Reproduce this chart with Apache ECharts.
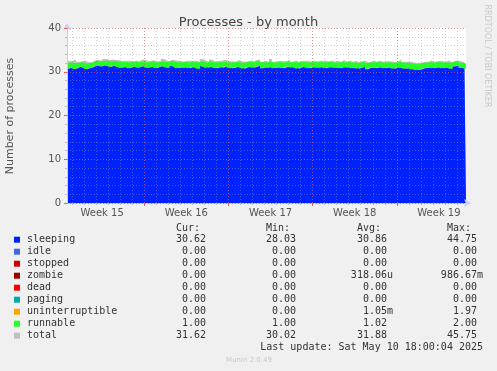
<!DOCTYPE html>
<html>
<head>
<meta charset="utf-8">
<script src="https://cdn.jsdelivr.net/npm/echarts@6/dist/echarts.min.js"></script>
<style>
html,body{margin:0;padding:0;background:#f0f0f0;}
#chart{width:497px;height:371px;}
</style>
</head>
<body>
<div id="chart"></div>
<script>
// time: days relative to Mon 2025-04-14 00:00 UTC (start of Week 16), 6-hour samples
const DAY = 86400000;
const base = Date.UTC(2025, 3, 14);
const tStart = -6.5;
const tStep = 0.25;
const xMin = -6.42;
const xMax = 26.75;

const sleeping = [
30.9,30.7,31.0,30.6,30.8,31.2,30.9,30.6,30.8,31.0,
31.3,31.4,31.2,31.5,31.3,31.1,31.4,31.2,30.9,31.0,
31.1,30.8,31.0,31.2,30.9,31.1,31.3,30.9,31.0,31.2,
30.8,31.0,31.3,31.1,30.9,31.4,31.2,30.8,31.0,30.9,
31.1,30.8,31.2,31.0,30.7,31.3,31.1,30.9,31.2,31.0,
30.8,31.1,30.9,31.3,31.0,30.8,30.9,31.2,31.0,30.7,
31.0,31.2,30.9,31.1,31.4,30.8,31.0,30.9,31.2,30.8,
30.9,31.1,30.8,31.0,31.3,30.9,31.1,30.7,31.0,31.2,
30.9,30.8,31.1,31.0,30.9,31.2,30.8,31.0,31.1,30.9,
31.0,30.8,31.1,30.9,31.2,30.8,31.0,30.7,30.9,31.1,
30.6,30.9,31.0,30.8,31.1,30.9,30.8,31.0,30.9,30.7,
30.9,31.1,30.8,30.7,30.9,30.6,30.5,30.4,30.6,30.8,
30.9,31.0,30.8,30.9,31.1,30.8,30.9,31.0,30.7,31.2,
31.4,30.9,30.8,30.7
];
const runnable = [
1.2,1.3,1.2,1.4,1.2,1.0,1.2,1.3,1.2,1.1,
1.2,1.0,1.2,1.1,1.2,1.3,1.1,1.2,1.4,1.2,
1.2,1.3,1.2,1.1,1.3,1.2,1.1,1.3,1.2,1.2,
1.3,1.2,1.1,1.2,1.3,1.1,1.2,1.4,1.2,1.2,
1.2,1.3,1.1,1.2,1.4,1.1,1.2,1.2,1.2,1.2,
1.3,1.2,1.2,1.1,1.2,1.3,1.2,1.1,1.2,1.3,
1.2,1.1,1.3,1.2,1.1,1.3,1.2,1.2,1.2,1.3,
1.2,1.2,1.3,1.2,1.1,1.2,1.2,1.4,1.2,1.1,
1.2,1.3,1.2,1.2,1.3,1.1,1.3,1.2,1.2,1.2,
1.2,1.3,1.2,1.2,1.1,1.3,1.2,1.3,1.2,1.2,
1.3,1.2,1.2,1.3,1.2,1.2,1.3,1.2,1.2,1.3,
1.2,1.2,1.3,1.3,1.2,1.3,1.3,1.3,1.3,1.2,
1.2,1.2,1.3,1.2,1.2,1.3,1.2,1.2,1.3,1.1,
1.0,1.2,1.2,1.2
];
const total = [
32.5,32.6,32.4,32.8,32.3,32.4,32.6,32.2,32.2,32.5,
32.8,32.6,33.0,32.9,32.7,32.8,32.7,32.7,32.5,32.5,
32.5,32.5,32.4,32.6,32.4,32.8,32.7,32.4,32.6,32.6,
32.4,32.4,33.0,32.6,32.4,32.8,32.6,32.6,32.4,32.4,
32.5,32.5,32.5,32.5,32.3,32.9,32.6,32.3,32.8,32.4,
32.4,32.5,32.7,32.7,32.4,32.4,32.3,32.7,32.4,32.3,
32.4,32.6,32.4,32.7,32.8,32.3,32.5,32.3,32.9,32.3,
32.4,32.5,32.4,32.4,32.8,32.3,32.6,32.3,32.5,32.5,
32.5,32.3,32.6,32.4,32.5,32.5,32.5,32.4,32.6,32.3,
32.5,32.3,32.7,32.3,32.6,32.3,32.5,32.2,32.4,32.5,
32.2,32.3,32.6,32.3,32.6,32.3,32.4,32.4,32.4,32.2,
32.4,32.8,32.3,32.3,32.3,32.2,32.0,32.0,32.1,32.3,
32.3,32.6,32.3,32.4,32.5,32.4,32.3,32.6,32.2,32.6,
32.6,32.4,32.2,32.2
];

const weekLabels = ['Week 15','Week 16','Week 17','Week 18','Week 19'];
const weekLabelPos = [-3.5, 3.5, 10.5, 17.5, 24.5];
const weekStarts = [0, 7, 14, 21];
const yTicks = [0, 10, 20, 30, 40];

const legendNames = ['sleeping','idle','stopped','zombie','dead','paging','uninterruptible','runnable','total'];
const legendColors = ['#0022ff','#4169e1','#cc0000','#990000','#ff0000','#00aaaa','#ffa500','#22ff22','#c0c0c0'];
const curVals = ['30.62 ','0.00 ','0.00 ','0.00 ','0.00 ','0.00 ','0.00 ','1.00 ','31.62 '];
const minVals = ['28.03 ','0.00 ','0.00 ','0.00 ','0.00 ','0.00 ','0.00 ','1.00 ','30.02 '];
const avgVals = ['30.86 ','0.00 ','0.00 ','318.06u','0.00 ','0.00 ','1.05m','1.02 ','31.88 '];
const maxVals = ['44.75 ','0.00 ','0.00 ','986.67m','0.00 ','0.00 ','1.97 ','2.00 ','45.75 '];
const headers = ['Cur:','Min:','Avg:','Max:'];
const lastUpdate = 'Last update: Sat May 10 18:00:04 2025';

const toMs = d => base + d*DAY;
function pairs(arr){ return arr.map((v,i)=>[toMs(tStart + tStep*i), v]); }

const dayTicks = [];
for (let d = Math.ceil(xMin); d <= Math.floor(xMax); d++) dayTicks.push(d);

const sans = 'DejaVu Sans';

const graphics = [];
graphics.push({type:'text', x:10, y:116, rotation:Math.PI/2, style:{text:'Number of processes', font:'11px "DejaVu Sans"', fill:'#555', align:'center', verticalAlign:'middle'}});
graphics.push({type:'text', x:487, y:56, rotation:-Math.PI/2, style:{text:'RRDTOOL / TOBI OETIKER', font:'8px "DejaVu Sans"', fill:'#c8c8c8', align:'center', verticalAlign:'middle'}});
const colRight = [212, 302, 393, 483];
headers.forEach((h,j)=>{
  graphics.push({type:'text', x:colRight[j]-12, y:228.5, style:{text:h, font:'10px "DejaVu Sans Mono"', fill:'#333', align:'right', verticalAlign:'middle'}});
});
legendNames.forEach((n,k)=>{
  const y = 239.7 + 12*k;
  graphics.push({type:'rect', shape:{x:14, y:y-3, width:6, height:6}, style:{fill:legendColors[k]}});
  graphics.push({type:'text', x:27, y:y, style:{text:n, font:'10px "DejaVu Sans Mono"', fill:'#333', align:'left', verticalAlign:'middle'}});
  [curVals,minVals,avgVals,maxVals].forEach((arr,j)=>{
    graphics.push({type:'text', x:colRight[j], y:y, style:{text:arr[k], font:'10px "DejaVu Sans Mono"', fill:'#333', align:'right', verticalAlign:'middle', whiteSpace:'pre'}});
  });
});
graphics.push({type:'text', x:483, y:347.7, style:{text:lastUpdate, font:'10px "DejaVu Sans Mono"', fill:'#333', align:'right', verticalAlign:'middle'}});
graphics.push({type:'text', x:249, y:360, style:{text:'Munin 2.0.49', font:'7px "DejaVu Sans"', fill:'#c8c8c8', align:'center', verticalAlign:'middle'}});

const chart = echarts.init(document.getElementById('chart'), null, {renderer:'canvas'});
chart.setOption({
  backgroundColor:'#f0f0f0',
  animation:false,
  title:{text:'Processes - by month', left:'center', top:11, textStyle:{fontFamily:sans, fontSize:13, fontWeight:'normal', color:'#444'}},
  grid:{left:67, top:28, width:399, height:175, show:true, backgroundColor:'#ffffff', borderWidth:0},
  xAxis:[
    {type:'time', min:toMs(xMin), max:toMs(xMax), position:'bottom', z:4,
     axisLine:{show:true, onZero:false, symbol:['none','arrow'], symbolSize:[6,7], symbolOffset:[0,5], lineStyle:{color:'#c8cdf8', width:1}},
     axisTick:{show:false}, axisLabel:{show:false}, splitLine:{show:false}},
    {type:'value', min:xMin, max:xMax, position:'bottom', z:5,
     axisLine:{show:false, onZero:false},
     axisTick:{show:true, customValues:dayTicks, length:2, lineStyle:{color:'#bbbbbb'}},
     axisLabel:{show:false},
     splitLine:{show:true, lineStyle:{color:'rgba(150,150,150,0.45)', type:[1,2], width:1}}},
    {type:'value', min:xMin, max:xMax, position:'bottom', z:6,
     axisLine:{show:false, onZero:false},
     axisTick:{show:true, customValues:weekStarts, length:3, lineStyle:{color:'#e06060'}},
     axisLabel:{show:true, customValues:weekLabelPos, formatter:(v)=>{const i = weekLabelPos.findIndex(m=>Math.abs(m-v)<1e-6); return i>=0 ? weekLabels[i] : '';}, fontFamily:sans, fontSize:10, color:'#555', margin:5},
     splitLine:{show:true, lineStyle:{color:'rgba(235,80,80,0.45)', type:[1,2], width:1}}}
  ],
  yAxis:[
    {type:'value', min:0, max:40, interval:2, z:5, position:'left',
     axisLine:{show:true, onZero:false, symbol:['none','arrow'], symbolSize:[6,7], symbolOffset:[0,5], lineStyle:{color:'#c8cdf8', width:1}},
     axisTick:{show:true, length:2, lineStyle:{color:'#bbbbbb'}},
     axisLabel:{show:false},
     splitLine:{show:true, lineStyle:{color:'rgba(150,150,150,0.45)', type:[1,2], width:1}}},
    {type:'value', min:0, max:40, interval:10, position:'left', z:6,
     axisLine:{show:false, onZero:false},
     axisTick:{show:true, length:3, lineStyle:{color:'#e06060'}},
     axisLabel:{show:true, customValues:yTicks, fontFamily:sans, fontSize:10, color:'#555', margin:6},
     splitLine:{show:true, lineStyle:{color:'rgba(235,80,80,0.45)', type:[1,2], width:1}}}
  ],
  series:[
    {name:'total', type:'line', xAxisIndex:0, yAxisIndex:0, data:pairs(total), showSymbol:false, step:'middle', z:1,
     lineStyle:{width:0}, areaStyle:{color:'#c0c0c0', opacity:1}, itemStyle:{color:'#c0c0c0'}},
    {name:'sleeping', type:'line', xAxisIndex:0, yAxisIndex:0, stack:'p', data:pairs(sleeping), showSymbol:false, step:'middle', z:3,
     lineStyle:{width:0}, areaStyle:{color:'#0022ff', opacity:1}, itemStyle:{color:'#0022ff'}},
    {name:'runnable', type:'line', xAxisIndex:0, yAxisIndex:0, stack:'p', data:pairs(runnable), showSymbol:false, step:'middle', z:3,
     lineStyle:{width:0}, areaStyle:{color:'#22ff22', opacity:1}, itemStyle:{color:'#22ff22'}}
  ],
  graphic:graphics
});
</script>
</body>
</html>
